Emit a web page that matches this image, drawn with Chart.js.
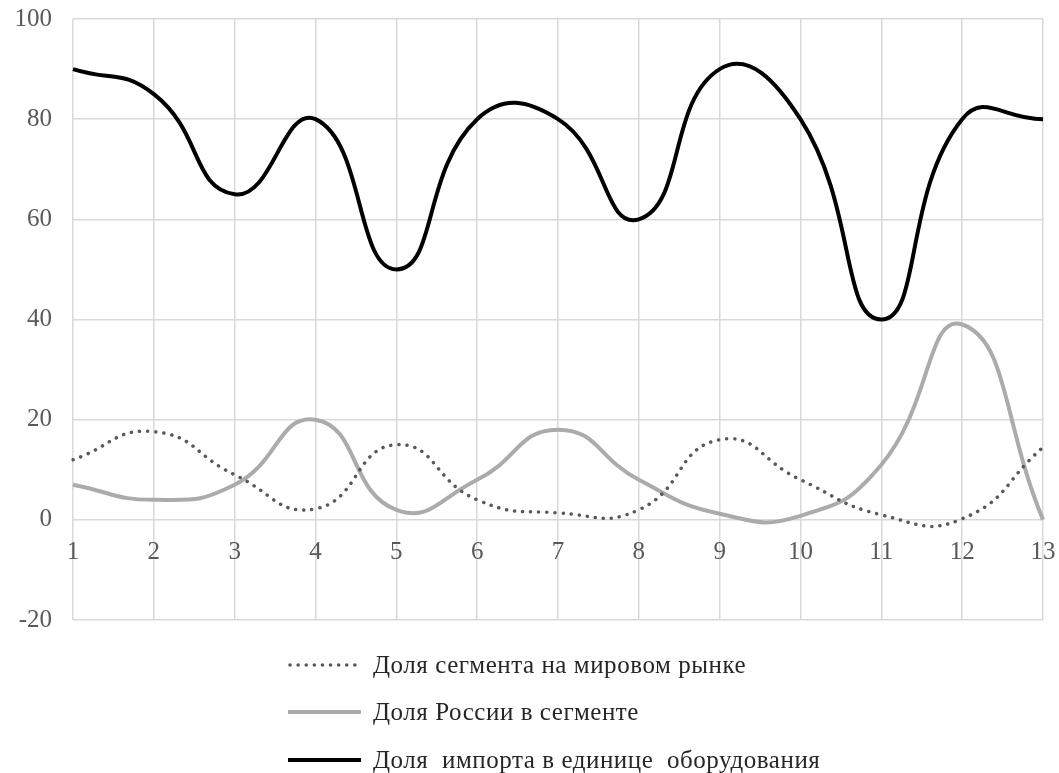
<!DOCTYPE html>
<html>
<head>
<meta charset="utf-8">
<script src="https://cdn.jsdelivr.net/npm/chart.js@4.4.0/dist/chart.umd.min.js"></script>
<style>
  html, body { margin: 0; padding: 0; background: #ffffff; }
  #wrap { position: relative; width: 1059px; height: 773px; }
  #legend { position: absolute; left: 288px; top: 641px; font-family: "Liberation Serif", "Times New Roman", serif; font-size: 25px; letter-spacing: 0.55px; color: #262626; }
  .item { display: flex; align-items: center; height: 47.5px; white-space: pre; }
  .item canvas { margin-right: 10px; }
</style>
</head>
<body>
<div id="wrap">
  <canvas id="c"></canvas>
  <div id="legend"></div>
</div>
<script>
const categories = ['1','2','3','4','5','6','7','8','9','10','11','12','13'];
const seriesNames = ['Доля сегмента на мировом рынке', 'Доля России в сегменте', 'Доля  импорта в единице  оборудования'];
const segmentShare = [12, 17.6, 9, 2.2, 15, 4, 1.4, 2, 16, 8, 1, 0.2, 14.5];
const russiaShare = [7, 4, 7, 20, 2, 8, 18, 8, 1.2, 0.8, 11, 39, 0];
const importShare = [90, 85, 65, 80, 50, 80, 80, 60, 90, 80, 40, 80, 80];
const yTicks = [-20, 0, 20, 40, 60, 80, 100];

const fontFamily = '"Liberation Serif", "Times New Roman", serif';

function zeroPad(s) { s.paddingTop = 0; s.paddingBottom = 0; s.paddingLeft = 0; s.paddingRight = 0; }

const chart = new Chart(document.getElementById('c'), {
  type: 'line',
  data: {
    labels: categories,
    datasets: [
      { label: seriesNames[0], data: segmentShare, borderColor: '#595959', borderWidth: 3.5, borderDash: [0.1, 8], borderCapStyle: 'round', pointRadius: 0, tension: 0.5, fill: false },
      { label: seriesNames[1], data: russiaShare, borderColor: '#ababab', borderWidth: 4, pointRadius: 0, tension: 0.5, fill: false },
      { label: seriesNames[2], data: importShare, borderColor: '#000000', borderWidth: 4, pointRadius: 0, tension: 0.5, fill: false }
    ]
  },
  options: {
    responsive: true,
    maintainAspectRatio: false,
    animation: false,
    layout: { padding: { top: 19, right: 16, bottom: 153, left: 0 } },
    plugins: { legend: { display: false }, tooltip: { enabled: false } },
    scales: {
      x: {
        type: 'category',
        offset: false,
        position: { y: 0 },
        afterFit: (s) => { zeroPad(s); s.height = 0; },
        grid: { color: '#d9d9d9', lineWidth: 1.5, drawTicks: false },
        border: { display: false },
        ticks: { color: '#595959', font: { family: fontFamily, size: 25 }, padding: 18, maxRotation: 0, autoSkip: false }
      },
      y: {
        min: -20, max: 100,
        afterBuildTicks: (s) => { s.ticks = yTicks.map(v => ({ value: v })); },
        afterFit: (s) => { s.width = 73; zeroPad(s); },
        grid: { color: '#d9d9d9', lineWidth: 1.5, drawTicks: false },
        border: { display: false },
        ticks: { color: '#595959', font: { family: fontFamily, size: 25 }, padding: 21 }
      }
    }
  }
});

// HTML legend built from the chart's datasets (vertical list)
const legendEl = document.getElementById('legend');
chart.data.datasets.forEach(ds => {
  const item = document.createElement('div');
  item.className = 'item';
  const cv = document.createElement('canvas');
  cv.width = 75; cv.height = 10;
  const ctx = cv.getContext('2d');
  ctx.strokeStyle = ds.borderColor;
  ctx.lineWidth = ds.borderWidth;
  ctx.lineCap = ds.borderCapStyle || 'butt';
  if (ds.borderDash) ctx.setLineDash(ds.borderDash);
  ctx.beginPath();
  ctx.moveTo(ds.borderCapStyle === 'round' ? 2 : 0, 5);
  ctx.lineTo(73, 5);
  ctx.stroke();
  const txt = document.createElement('span');
  txt.textContent = ds.label;
  item.appendChild(cv);
  item.appendChild(txt);
  legendEl.appendChild(item);
});
</script>
</body>
</html>
